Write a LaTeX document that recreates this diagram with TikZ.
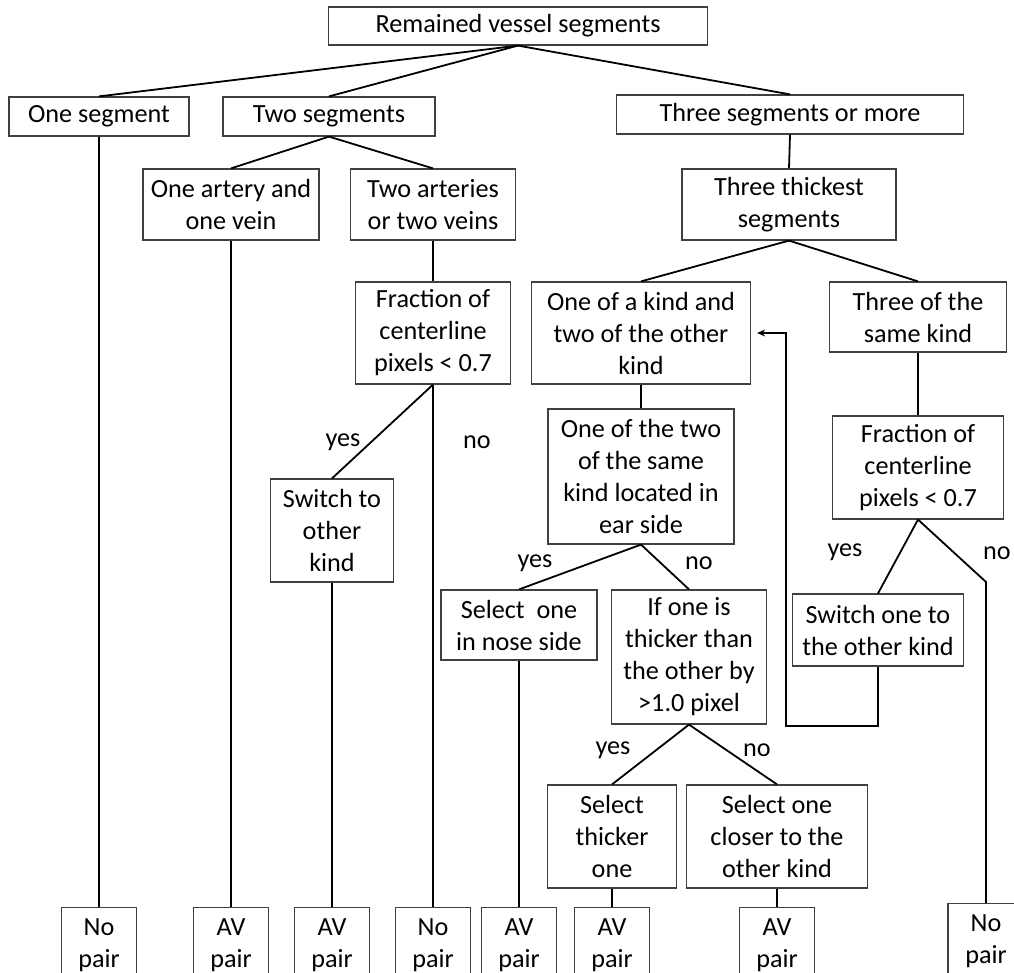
\documentclass[tikz,border=0pt]{standalone}
\usepackage{fontspec}
\setmainfont{Carlito}
\usetikzlibrary{arrows.meta}

\begin{document}
\begin{tikzpicture}[x=1pt,y=-1pt,
		  every node/.style={font=\fontsize{26.2}{32}\selectfont,align=center,inner sep=0pt},
		  stepnode/.style={draw=black!75,line width=1.2pt},
		  wh/.style 2 args={minimum width=#1,minimum height=#2},
		  endnode/.style={stepnode,anchor=north,wh={75}{76}},
		  link/.style={line width=1.8pt}
		]

			\useasboundingbox (0,0) rectangle (1014,973);
			\clip (0,0) rectangle (1014,973);

			% the first levels
			\node[stepnode,wh={379}{38}] (root) at (518,26) {Remained vessel segments};
			\node[stepnode,wh={180}{39}] (one) at (99,116.5) {One segment};
			\node[stepnode,wh={212}{39}] (two) at (329,116.5) {Two segments};
			\node[stepnode,wh={347}{39}] (three) at (790,114.5) {Three segments or more};
			\node[stepnode,wh={176}{71}] (artery) at (231,204.5) {One artery and\\one vein};
			\node[stepnode,wh={165}{71}] (twoart) at (433,204.5) {Two arteries\\or two veins};
			\node[stepnode,wh={214}{71}] (thick) at (789,204.5) {Three thickest\\segments};

			% the decisions
			\node[stepnode,wh={155}{102}] (fracL) at (433,333) {Fraction of\\centerline\\pixels < 0.7};
			\node[stepnode,wh={219}{102}] (mixed) at (641,333) {One of a kind and\\two of the other\\kind};
			\node[stepnode,wh={177}{70}] (same) at (918,317) {Three of the\\same kind};
			\node[stepnode,wh={186}{135}] (ear) at (641,476.5) {One of the two\\of the same\\kind located in\\ear side};
			\node[stepnode,wh={171}{103}] (fracR) at (918,467.5) {Fraction of\\centerline\\pixels < 0.7};
			\node[stepnode,wh={123}{103}] (switchL) at (332,530.5) {Switch to\\other\\kind};
			\node[stepnode,wh={156}{70}] (nose) at (519,625) {Select\ \ one\\in nose side};
			\node[stepnode,wh={155}{134}] (ifone) at (689,657) {If one is\\thicker than\\the other by\\>1.0 pixel};
			\node[stepnode,wh={171}{72}] (switchR) at (878,630) {Switch one to\\the other kind};
			\node[stepnode,wh={129}{103}] (thicker) at (612,836.5) {Select\\thicker\\one};
			\node[stepnode,wh={181}{103}] (closer) at (777,836.5) {Select one\\closer to the\\other kind};

			% the answers
			\node (yes1) at (343,442) {yes};
			\node (no1) at (477,442) {no};
			\node (yes2) at (535,563) {yes};
			\node (no2) at (699,563) {no};
			\node (yes3) at (845,552) {yes};
			\node (no3) at (997,553) {no};
			\node (yes4) at (613,750) {yes};
			\node (no4) at (757,750) {no};

			% the edges
			\draw[link] (root.south) -- (one.north);
			\draw[link] (root.south) -- (two.north);
			\draw[link] (root.south) -- (three.north);
			\draw[link] (two.south) -- (artery.north);
			\draw[link] (two.south) -- (twoart.north);
			\draw[link] (three.south) -- (thick.north);
			\draw[link] (thick.south) -- (mixed.north);
			\draw[link] (thick.south) -- (same.north);
			\draw[link] (twoart.south) -- (fracL.north);
			\draw[link] (fracL.south) -- (switchL.north);
			\draw[link] (mixed.south) -- (ear.north);
			\draw[link] (same.south) -- (fracR.north);
			\draw[link] (ear.south) -- (nose.north);
			\draw[link] (ear.south) -- (ifone.north);
			\draw[link] (fracR.south) -- (switchR.north);
			\draw[link] (ifone.south) -- (thicker.north);
			\draw[link] (ifone.south) -- (closer.north);

			% the loop back
			\coordinate (fb) at (786,726);
			\draw[line width=1.5pt,-{Stealth[length=8pt,width=7pt]},shorten >=6pt] (switchR.south) |- (fb) |- (mixed.east);

			% the end boxes
			\coordinate (base) at (0,907);
			\foreach \n/\p/\t in {e1/one/No, e2/artery/AV, e3/switchL/AV, e4/fracL/No, e5/nose/AV, e6/thicker/AV, e7/closer/AV}
			{
			  \node[endnode] (\n) at (\p.south |- base) {\t\\pair};
			  \draw[link] (\p.south) -- (\n.north);
			}
			\coordinate (nojoint) at (986,582);
			\coordinate (base2) at (0,903);
			\node[endnode,wh={76}{76}] (e8) at (nojoint |- base2) {No\\pair};
			\draw[link] (fracR.south) -- (nojoint) -- (e8.north);

		\end{tikzpicture}
\end{document}
